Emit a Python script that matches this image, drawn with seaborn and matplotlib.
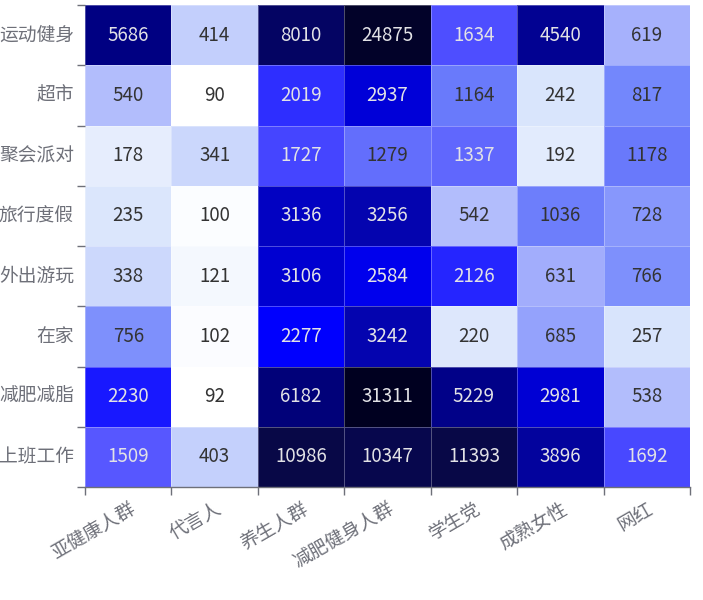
import matplotlib
matplotlib.use('Agg')
import matplotlib.pyplot as plt
from matplotlib.colors import LinearSegmentedColormap, LogNorm
import seaborn as sns
import numpy as np
import pandas as pd

scenes = ['运动健身', '超市', '聚会派对', '旅行度假', '外出游玩', '在家', '减肥减脂', '上班工作']
groups = ['亚健康人群', '代言人', '养生人群', '减肥健身人群', '学生党', '成熟女性', '网红']

row_sport = [5686, 414, 8010, 24875, 1634, 4540, 619]
row_market = [540, 90, 2019, 2937, 1164, 242, 817]
row_party = [178, 341, 1727, 1279, 1337, 192, 1178]
row_travel = [235, 100, 3136, 3256, 542, 1036, 728]
row_outing = [338, 121, 3106, 2584, 2126, 631, 766]
row_home = [756, 102, 2277, 3242, 220, 685, 257]
row_diet = [2230, 92, 6182, 31311, 5229, 2981, 538]
row_work = [1509, 403, 10986, 10347, 11393, 3896, 1692]

# colour stops (value -> colour), spaced on a log scale
stop_vals = [90, 250, 400, 600, 800, 1200, 1500, 2000, 2230, 2277, 3100, 3250, 5700, 11000, 31311]
stop_cols = ['#ffffff', '#d8e4fc', '#c4d0fc', '#acb6fc', '#7488fc', '#6878fb', '#5858ff',
             '#3232ff', '#1c1cff', '#0000ff', '#0000d0', '#0505aa', '#000082', '#080848', '#000020']

df = pd.DataFrame([row_sport, row_market, row_party, row_travel, row_outing,
                   row_home, row_diet, row_work], index=scenes, columns=groups)

lo, hi = np.log(stop_vals[0]), np.log(stop_vals[-1])
pos = [(np.log(v) - lo) / (hi - lo) for v in stop_vals]
cmap = LinearSegmentedColormap.from_list('echarts_blue', list(zip(pos, stop_cols)))

plt.rcParams['font.family'] = ['Noto Sans CJK SC', 'DejaVu Sans']

fig = plt.figure(figsize=(7.03, 6.0), dpi=100)
ax = fig.add_axes([85 / 703, 1 - 487 / 600, 605 / 703, 482 / 600])
sns.heatmap(df, ax=ax, cmap=cmap, norm=LogNorm(vmin=stop_vals[0], vmax=stop_vals[-1]),
            annot=True, fmt='d', cbar=False, linewidths=0.5, linecolor=(1, 1, 1, 0.3),
            annot_kws={'fontsize': 13.5})

for t in ax.texts:
    v = int(t.get_text())
    t.set_color('#e2e2e6' if v >= 1300 else '#333333')

axis_col = '#6e7079'
ax.set_xlabel('')
ax.set_ylabel('')
ax.set_xticks(np.arange(len(groups)) + 0.5)
ax.set_yticks(np.arange(len(scenes)) + 0.5)
ax.set_xticklabels(groups, rotation=30, ha='right', rotation_mode='anchor',
                   fontsize=13.5, color=axis_col)
ax.set_yticklabels(scenes, rotation=0, fontsize=13.5, color=axis_col)
ax.tick_params(axis='both', which='major', length=0, pad=8)
ax.set_xticks(np.arange(len(groups) + 1), minor=True)
ax.set_yticks(np.arange(len(scenes) + 1), minor=True)
ax.tick_params(axis='both', which='minor', length=6, color=axis_col, width=1)

for side in ['top', 'right', 'left']:
    ax.spines[side].set_visible(False)
ax.spines['bottom'].set_visible(True)
ax.spines['bottom'].set_color(axis_col)
ax.spines['bottom'].set_linewidth(1)

fig.savefig('out.png', dpi=100)
